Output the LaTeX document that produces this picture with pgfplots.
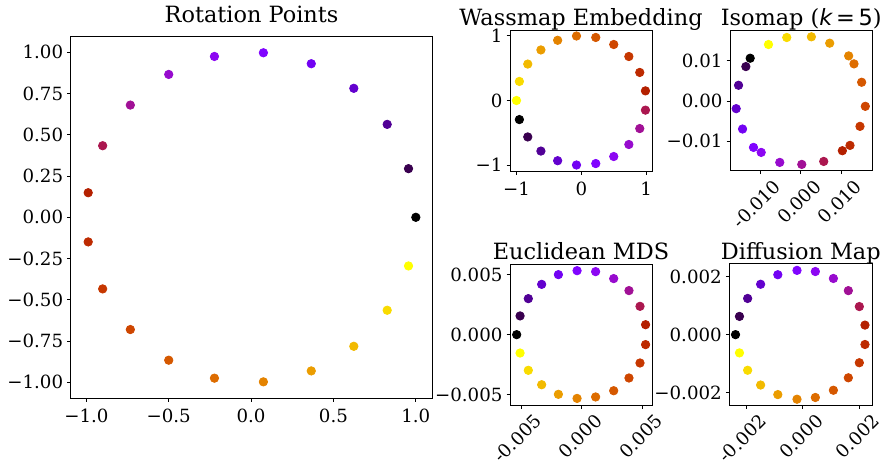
\documentclass[border=0pt]{standalone}
\usepackage{pgfplots}
\pgfplotsset{compat=1.18}
\usepackage{pgfplotstable}
\usepackage{fontspec}
\setmainfont{DejaVu Serif}
\newfontfamily\dvs{DejaVu Sans}

% 21 points, colour index k = 0..20 (gnuplot colormap)
\pgfplotstableread{
x y k
1.0000 0.0000 0
0.9556 0.2948 1
0.8262 0.5633 2
0.6235 0.7818 3
0.3653 0.9309 4
0.0747 0.9972 5
-0.2225 0.9749 6
-0.5000 0.8660 7
-0.7330 0.6802 8
-0.9010 0.4339 9
-0.9888 0.1490 10
-0.9888 -0.1490 11
-0.9010 -0.4339 12
-0.7330 -0.6802 13
-0.5000 -0.8660 14
-0.2225 -0.9749 15
0.0747 -0.9972 16
0.3653 -0.9309 17
0.6235 -0.7818 18
0.8262 -0.5633 19
0.9556 -0.2948 20
}\rot

\pgfplotstableread{
x y k
-0.9556 -0.2948 0
-0.8262 -0.5633 1
-0.6235 -0.7818 2
-0.3653 -0.9309 3
-0.0747 -0.9972 4
0.2225 -0.9749 5
0.5000 -0.8660 6
0.7330 -0.6802 7
0.9010 -0.4339 8
0.9888 -0.1490 9
0.9888 0.1490 10
0.9010 0.4339 11
0.7330 0.6802 12
0.5000 0.8660 13
0.2225 0.9749 14
-0.0747 0.9972 15
-0.3653 0.9309 16
-0.6235 0.7818 17
-0.8262 0.5633 18
-0.9556 0.2948 19
-1.0000 0.0000 20
}\wass

\pgfplotstableread{
x y k
-0.01251 0.01060 0
-0.01358 0.00853 1
-0.01539 0.00389 2
-0.01597 -0.00191 3
-0.01440 -0.00696 4
-0.01169 -0.01152 5
-0.00979 -0.01276 6
-0.00519 -0.01524 7
0.00025 -0.01574 8
0.00568 -0.01500 9
0.01029 -0.01234 10
0.01218 -0.01102 11
0.01465 -0.00630 12
0.01597 -0.00133 13
0.01506 0.00464 14
0.01317 0.00920 15
0.01185 0.01118 16
0.00716 0.01433 17
0.00263 0.01591 18
-0.00346 0.01574 19
-0.00798 0.01400 20
}\iso

\pgfplotstableread{
x y k
-0.00536 0.00000 0
-0.00508 0.00156 1
-0.00440 0.00300 2
-0.00330 0.00419 3
-0.00192 0.00500 4
-0.00038 0.00533 5
0.00115 0.00525 6
0.00264 0.00467 7
0.00390 0.00367 8
0.00481 0.00236 9
0.00527 0.00083 10
0.00527 -0.00083 11
0.00481 -0.00236 12
0.00390 -0.00361 13
0.00264 -0.00467 14
0.00115 -0.00519 15
-0.00038 -0.00531 16
-0.00192 -0.00497 17
-0.00330 -0.00417 18
-0.00440 -0.00297 19
-0.00508 -0.00153 20
}\mds

\pgfplotstableread{
x y k
-0.00238 0.00000 0
-0.00224 0.00063 1
-0.00195 0.00125 2
-0.00149 0.00174 3
-0.00088 0.00207 4
-0.00020 0.00222 5
0.00045 0.00218 6
0.00109 0.00194 7
0.00162 0.00152 8
0.00201 0.00097 9
0.00221 0.00033 10
0.00221 -0.00034 11
0.00201 -0.00097 12
0.00162 -0.00149 13
0.00109 -0.00192 14
0.00045 -0.00217 15
-0.00020 -0.00223 16
-0.00088 -0.00207 17
-0.00149 -0.00174 18
-0.00195 -0.00123 19
-0.00224 -0.00063 20
}\dif

\pgfplotsset{
  emb/.style={
    scale only axis,
    scaled ticks=false,
    axis line style={black, line width=0.4pt},
    tick align=outside,
    xtick pos=bottom, ytick pos=left,
    major tick length=1.75pt,
    tick style={black, line width=0.4pt},
    ticklabel style={font=\fontsize{9.1}{10}\selectfont},
    yticklabel style={xshift=1.5pt},
    every axis title shift=0pt,
    title style={font=\fontsize{11.2}{13}\selectfont, at={(0.5,1)}, anchor=base},
    point meta min=0, point meta max=20,
    colormap={gnu}{
      rgb=(0,0,0) rgb=(0.224,0,0.309) rgb=(0.316,0.001,0.588)
      rgb=(0.387,0.003,0.809) rgb=(0.447,0.008,0.951) rgb=(0.5,0.016,1)
      rgb=(0.548,0.027,0.951) rgb=(0.592,0.043,0.809) rgb=(0.632,0.064,0.588)
      rgb=(0.671,0.091,0.309) rgb=(0.707,0.125,0) rgb=(0.742,0.166,0)
      rgb=(0.775,0.216,0) rgb=(0.806,0.275,0) rgb=(0.837,0.343,0)
      rgb=(0.866,0.422,0) rgb=(0.894,0.512,0) rgb=(0.922,0.614,0)
      rgb=(0.949,0.729,0) rgb=(0.975,0.857,0) rgb=(1,1,0)},
  },
  rotx/.style={xticklabel style={inner sep=1pt, xshift=6pt, yshift=-0.5pt, rotate=45, anchor=north east}},
  dots/.style={scatter, only marks, mark=*, mark size=2.1pt,
    point meta=explicit,
    scatter/use mapped color={draw=mapped color, fill=mapped color}},
}

\begin{document}
\begin{tikzpicture}
\useasboundingbox (0,0) rectangle (441pt,231pt);

\begin{axis}[emb,
  at={(35.35pt,31.85pt)}, anchor=south west,
  width=180.8pt, height=181pt,
  title={Rotation Points}, title style={yshift=6.8pt},
  xmin=-1.095, xmax=1.1, ymin=-1.097, ymax=1.097,
  xtick={-1,-0.5,0,0.5,1},
  xticklabels={−1.0,−0.5,0.0,0.5,1.0},
  ytick={-1,-0.75,-0.5,-0.25,0,0.25,0.5,0.75,1},
  yticklabels={−1.00,−0.75,−0.50,−0.25,0.00,0.25,0.50,0.75,1.00},
]
\addplot[dots] table[x=x, y=y, meta=k] {\rot};
\end{axis}

\begin{axis}[emb,
  at={(255pt,145.5pt)}, anchor=south west,
  width=71pt, height=70.5pt,
  title={Wassmap Embedding}, title style={yshift=2.5pt},
  xmin=-1.1, xmax=1.09, ymin=-1.09, ymax=1.09,
  xtick={-1,0,1}, xticklabels={−1,0,1},
  ytick={-1,0,1}, yticklabels={−1,0,1},
]
\addplot[dots] table[x=x, y=y, meta=k] {\wass};
\end{axis}

\begin{axis}[emb, rotx,
  at={(365pt,145.65pt)}, anchor=south west,
  width=71.15pt, height=70.35pt,
  title={Isomap ({\dvs\itshape k}{\dvs\,=\,5})}, title style={yshift=2.5pt},
  xmin=-0.0175, xmax=0.0177, ymin=-0.0173, ymax=0.0176,
  xtick={-0.01,0,0.01}, xticklabels={-0.010,0.000,0.010},
  ytick={-0.01,0,0.01}, yticklabels={−0.01,0.00,0.01},
]
\addplot[dots] table[x=x, y=y, meta=k] {\iso};
\end{axis}

\begin{axis}[emb, rotx,
  at={(255pt,28.5pt)}, anchor=south west,
  width=71pt, height=70.35pt,
  title={Euclidean MDS}, title style={yshift=2.5pt},
  xmin=-0.00591, xmax=0.0058, ymin=-0.00586, ymax=0.00586,
  xtick={-0.005,0,0.005}, xticklabels={-0.005,0.000,0.005},
  ytick={-0.005,0,0.005}, yticklabels={−0.005,0.000,0.005},
]
\addplot[dots] table[x=x, y=y, meta=k] {\mds};
\end{axis}

\begin{axis}[emb, rotx,
  at={(364.65pt,28.5pt)}, anchor=south west,
  width=71.5pt, height=70.65pt,
  title={Diffusion Map}, title style={yshift=2.2pt},
  xmin=-0.0026, xmax=0.00247, ymin=-0.00243, ymax=0.00245,
  xtick={-0.002,0,0.002}, xticklabels={-0.002,0.000,0.002},
  ytick={-0.002,0,0.002}, yticklabels={−0.002,0.000,0.002},
]
\addplot[dots] table[x=x, y=y, meta=k] {\dif};
\end{axis}
\end{tikzpicture}
\end{document}
